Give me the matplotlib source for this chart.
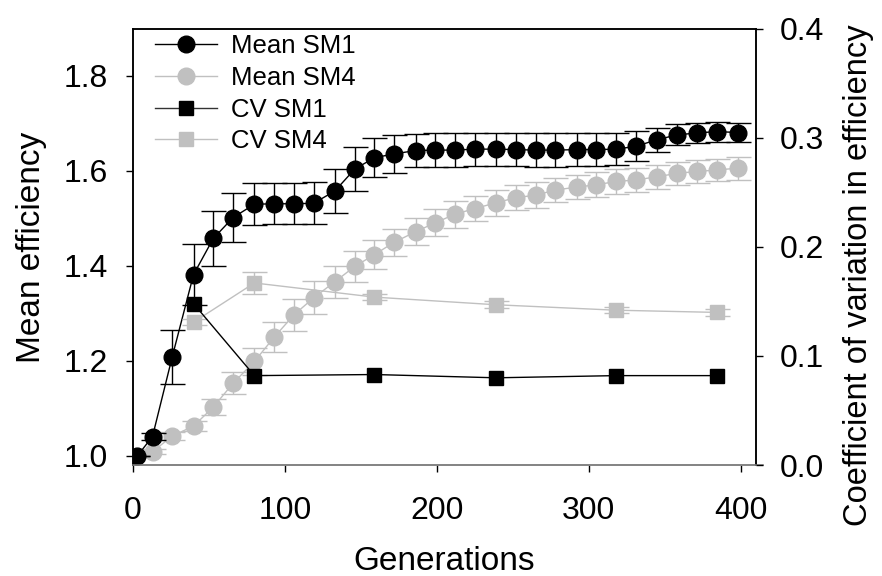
import matplotlib
matplotlib.use("Agg")
import matplotlib.pyplot as plt
from matplotlib.lines import Line2D

plt.rcParams['font.family'] = ['Liberation Sans', 'DejaVu Sans']

# generations sampled for the mean efficiency series
gens = [3, 13, 26, 40, 53, 66, 80, 93, 106, 119, 133, 146, 159, 172, 186, 199,
        212, 225, 239, 252, 265, 278, 292, 305, 318, 331, 345, 358, 371, 384, 398]

mean_sm1 = [1.000, 1.041, 1.209, 1.382, 1.458, 1.502, 1.530, 1.531, 1.531, 1.532,
            1.558, 1.604, 1.628, 1.636, 1.643, 1.644, 1.644, 1.646, 1.646, 1.645,
            1.644, 1.644, 1.645, 1.645, 1.646, 1.652, 1.666, 1.676, 1.680, 1.683, 1.681]
err_sm1 = [0.0, 0.008, 0.057, 0.065, 0.058, 0.052, 0.044, 0.043, 0.043, 0.044,
           0.046, 0.046, 0.041, 0.040, 0.035, 0.035, 0.035, 0.035, 0.035, 0.035,
           0.035, 0.035, 0.035, 0.035, 0.034, 0.032, 0.025, 0.022, 0.021, 0.021, 0.021]

mean_sm4 = [1.000, 1.009, 1.042, 1.063, 1.103, 1.153, 1.199, 1.250, 1.297, 1.333,
            1.367, 1.399, 1.424, 1.450, 1.472, 1.491, 1.509, 1.521, 1.533, 1.544,
            1.549, 1.560, 1.566, 1.571, 1.578, 1.581, 1.588, 1.595, 1.599, 1.602, 1.606]
err_sm4 = [0.0, 0.005, 0.008, 0.010, 0.017, 0.023, 0.028, 0.032, 0.034, 0.035,
           0.034, 0.032, 0.030, 0.028, 0.028, 0.028, 0.028, 0.027, 0.027, 0.027,
           0.027, 0.026, 0.026, 0.026, 0.026, 0.025, 0.025, 0.024, 0.024, 0.024, 0.024]

# coefficient of variation, sampled less often
cv_gens = [40, 80, 159, 239, 318, 384]
cv_sm1 = [0.148, 0.082, 0.083, 0.080, 0.082, 0.082]
cv_sm4 = [0.131, 0.167, 0.154, 0.147, 0.142, 0.140]
cv_sm4_err = [0.003, 0.010, 0.003, 0.003, 0.003, 0.003]

grey = '#c0c0c0'

fig = plt.figure(figsize=(8.82, 5.76), dpi=100)
ax = fig.add_axes([0.1505, 0.1927, 0.7067, 0.7570])
ax2 = ax.twinx()

ax.errorbar(gens, mean_sm4, yerr=err_sm4, color=grey, marker='o', markersize=12,
            linewidth=1, elinewidth=1, capsize=9, capthick=1, zorder=2)
ax.errorbar(gens, mean_sm1, yerr=err_sm1, color='black', marker='o', markersize=12,
            linewidth=1, elinewidth=1, capsize=9, capthick=1, zorder=3)

ax2.errorbar(cv_gens, cv_sm4, yerr=cv_sm4_err, color=grey, marker='s', markersize=10,
             linewidth=1, elinewidth=1, capsize=9, capthick=1, zorder=2)
ax2.plot(cv_gens, cv_sm1, color='black', marker='s', markersize=10, linewidth=1, zorder=3)

ax.set_xlim(0, 410)
ax.set_ylim(0.981, 1.899)
ax2.set_ylim(0, 0.4)
ax.set_xticks([0, 100, 200, 300, 400])
ax.set_yticks([1.0, 1.2, 1.4, 1.6, 1.8])
ax.set_yticklabels(['1.0', '1.2', '1.4', '1.6', '1.8'])
ax2.set_yticks([0.0, 0.1, 0.2, 0.3, 0.4])
ax2.set_yticklabels(['0.0', '0.1', '0.2', '0.3', '0.4'])

for a in (ax, ax2):
    for s in a.spines.values():
        s.set_linewidth(1.1)
    a.spines['bottom'].set_color('#808080')
ax.tick_params(axis='both', direction='out', length=5, width=1, labelsize=23, pad=13)
ax.tick_params(axis='x', pad=17)
ax2.tick_params(axis='y', direction='out', length=5, width=1, labelsize=23, pad=12)

# bottom axis line runs a little past the right axis
ax.add_line(Line2D([1.0, 1.011], [0, 0], transform=ax.transAxes, color='#808080',
                   linewidth=1.1, clip_on=False))

ax.set_xlabel('Generations', fontsize=24, labelpad=15)
ax.set_ylabel('Mean efficiency', fontsize=24, labelpad=12)
ax2.set_ylabel('Coefficient of variation in efficiency', fontsize=23.5)
ax2.yaxis.set_label_coords(1.140, 0.435)

handles = [
    Line2D([], [], color='black', marker='o', markersize=12, linewidth=1),
    Line2D([], [], color=grey, marker='o', markersize=12, linewidth=1),
    Line2D([], [], color='#333333', markerfacecolor='black', markeredgecolor='black',
           marker='s', markersize=10, linewidth=1),
    Line2D([], [], color=grey, marker='s', markersize=10, linewidth=1),
]
labels = ['Mean SM1', 'Mean SM4', 'CV SM1', 'CV SM4']
ax2.legend(handles, labels, loc='upper left', bbox_to_anchor=(0.036, 0.988),
           frameon=False, fontsize=18.5, borderpad=0, borderaxespad=0,
           handlelength=2.4, handletextpad=0.56, labelspacing=0.3)

plt.savefig('out.png', dpi=100)
